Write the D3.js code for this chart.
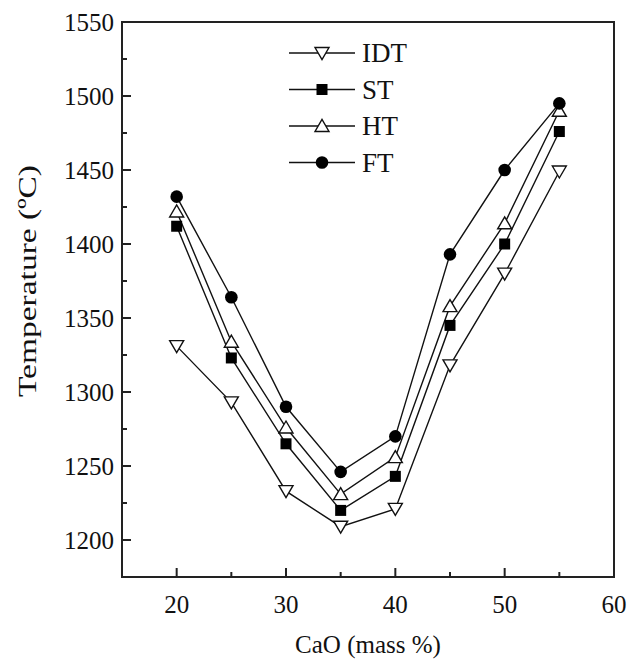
<!DOCTYPE html>
<meta charset="utf-8">
<style>
body { margin: 0; background: #fff; }
text { font-family: "Liberation Serif", "Times New Roman", serif; fill: #111; }
.line { fill: none; stroke: #111; stroke-width: 1.4px; }
</style>
<body>
<script src="https://d3js.org/d3.v7.min.js"></script>
<script>
// CaO content (mass %)
var cao = [20, 25, 30, 35, 40, 45, 50, 55];

// ash fusion temperatures (oC)
var idt = [1331, 1293, 1233, 1209, 1221, 1318, 1380, 1449];
var st  = [1412, 1323, 1265, 1220, 1243, 1345, 1400, 1476];
var ht  = [1422, 1334, 1276, 1231, 1256, 1358, 1414, 1490];
var ft  = [1432, 1364, 1290, 1246, 1270, 1393, 1450, 1495];

var seriesNames = ["IDT", "ST", "HT", "FT"];
var xTicks = [20, 30, 40, 50, 60];
var yTicks = [1200, 1250, 1300, 1350, 1400, 1450, 1500, 1550];

var series = [
  {name: "IDT", vals: idt, sym: "down"},
  {name: "ST", vals: st, sym: "square"},
  {name: "HT", vals: ht, sym: "up"},
  {name: "FT", vals: ft, sym: "circle"}
];

var margin = {top: 22, right: 17, bottom: 87, left: 122},
    width = 631 - margin.left - margin.right,
    height = 664 - margin.top - margin.bottom;

var x = d3.scaleLinear().domain([15, 60]).range([0, width]);
var y = d3.scaleLinear().domain([1175, 1550]).range([height, 0]);

var svg = d3.select("body").append("svg")
    .attr("width", 631)
    .attr("height", 664)
  .append("g")
    .attr("transform", "translate(" + margin.left + "," + margin.top + ")");

// frame
svg.append("rect")
    .attr("width", width).attr("height", height)
    .attr("fill", "none").attr("stroke", "#222").attr("stroke-width", 2);

// x ticks (inward)
var xMinor = d3.range(15, 60, 5).filter(function(d) { return xTicks.indexOf(d) < 0 && d > 15; });
svg.selectAll(".xmaj").data(xTicks).enter().append("line")
    .attr("x1", function(d) { return x(d); }).attr("x2", function(d) { return x(d); })
    .attr("y1", height).attr("y2", height - 9)
    .attr("stroke", "#222").attr("stroke-width", 2);
svg.selectAll(".xmin").data(xMinor).enter().append("line")
    .attr("x1", function(d) { return x(d); }).attr("x2", function(d) { return x(d); })
    .attr("y1", height).attr("y2", height - 5)
    .attr("stroke", "#222").attr("stroke-width", 2);
svg.selectAll(".xlab").data(xTicks).enter().append("text")
    .attr("x", function(d) { return x(d); })
    .attr("y", height + 36)
    .attr("text-anchor", "middle")
    .style("font-size", "25px")
    .text(function(d) { return d; });

// y ticks (inward)
var yMinor = d3.range(1175, 1550, 25).filter(function(d) { return d % 50 !== 0 && d > 1175; });
svg.selectAll(".ymaj").data(yTicks).enter().append("line")
    .attr("x1", 0).attr("x2", 9)
    .attr("y1", function(d) { return y(d); }).attr("y2", function(d) { return y(d); })
    .attr("stroke", "#222").attr("stroke-width", 2);
svg.selectAll(".ymin").data(yMinor).enter().append("line")
    .attr("x1", 0).attr("x2", 5)
    .attr("y1", function(d) { return y(d); }).attr("y2", function(d) { return y(d); })
    .attr("stroke", "#222").attr("stroke-width", 2);
svg.selectAll(".ylab").data(yTicks).enter().append("text")
    .attr("x", -8)
    .attr("y", function(d) { return y(d); })
    .attr("dy", "0.35em")
    .attr("text-anchor", "end")
    .style("font-size", "25px")
    .text(function(d) { return d; });

// axis titles
svg.append("text")
    .attr("x", x(37.5))
    .attr("y", height + 76)
    .attr("text-anchor", "middle")
    .style("font-size", "25px")
    .text("CaO (mass %)");
svg.append("text")
    .attr("transform", "translate(" + (-86) + "," + (281 - margin.top) + ") rotate(-90)")
    .attr("text-anchor", "middle")
    .attr("textLength", 232)
    .attr("lengthAdjust", "spacingAndGlyphs")
    .style("font-size", "26px")
    .text("Temperature (ºC)");

// symbols
function drawSymbol(g, sym, cx, cy) {
  if (sym === "circle") {
    g.append("circle").attr("cx", cx).attr("cy", cy).attr("r", 6.3)
      .attr("fill", "#000");
  } else if (sym === "square") {
    g.append("rect").attr("x", cx - 5.5).attr("y", cy - 5.5)
      .attr("width", 11).attr("height", 11).attr("fill", "#000");
  } else {
    var s = 7, h = 11;
    var pts = sym === "up"
      ? [[cx - s, cy + h / 2], [cx + s, cy + h / 2], [cx, cy - h / 2 - 1]]
      : [[cx - s, cy - h / 2], [cx + s, cy - h / 2], [cx, cy + h / 2 + 1]];
    g.append("polygon").attr("points", pts.map(function(p) { return p.join(","); }).join(" "))
      .attr("fill", "#fff").attr("stroke", "#111").attr("stroke-width", 1.4);
  }
}

var line = d3.line()
    .x(function(d) { return x(d[0]); })
    .y(function(d) { return y(d[1]); });

series.forEach(function(s) {
  var pts = cao.map(function(c, i) { return [c, s.vals[i]]; });
  svg.append("path").datum(pts).attr("class", "line").attr("d", line);
});
series.forEach(function(s) {
  var g = svg.append("g");
  cao.forEach(function(c, i) { drawSymbol(g, s.sym, x(c), y(s.vals[i])); });
});

// legend
var legend = svg.append("g").attr("transform", "translate(" + (289 - margin.left) + "," + (53 - margin.top) + ")");
series.forEach(function(s, i) {
  var g = legend.append("g").attr("transform", "translate(0," + i * 36.5 + ")");
  g.append("line").attr("x1", 0).attr("x2", 66).attr("y1", 0).attr("y2", 0)
    .attr("stroke", "#111").attr("stroke-width", 1.4);
  drawSymbol(g, s.sym, 33, 0);
  g.append("text").attr("x", 73).attr("y", 0).attr("dy", "0.35em")
    .style("font-size", "27px").text(seriesNames[i]);
});
</script>
</body>
